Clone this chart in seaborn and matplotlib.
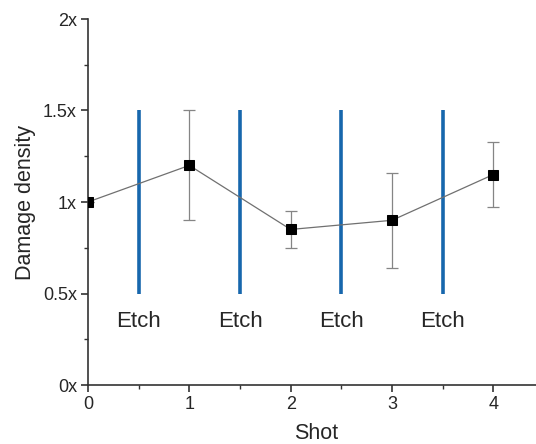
import matplotlib
matplotlib.use("Agg")
import matplotlib.pyplot as plt
import seaborn as sns
import pandas as pd
from matplotlib.ticker import MultipleLocator

shots = [0, 1, 2, 3, 4]
density = [1.0, 1.20, 0.85, 0.90, 1.15]
err_low = [0.0, 0.30, 0.10, 0.26, 0.18]
err_high = [0.0, 0.30, 0.10, 0.26, 0.18]
etch_x = [0.5, 1.5, 2.5, 3.5]
etch_label = "Etch"
ytick_vals = [0, 0.5, 1.0, 1.5, 2.0]
ytick_labels = ["0x", "0.5x", "1x", "1.5x", "2x"]

sns.set_style("ticks")
plt.rcParams['font.family'] = ['Liberation Sans', 'DejaVu Sans']

fig = plt.figure(figsize=(5.36, 4.44), dpi=100)
ax = fig.add_axes([88/536, 59/444, 456/536, 366/444])

df = pd.DataFrame({"Shot": shots, "Damage density": density})

# blue etch lines
for xe in etch_x:
    ax.plot([xe, xe], [0.5, 1.5], color="#1767ad", lw=2.6, zorder=2, solid_capstyle="butt")
    ax.text(xe, 0.345, etch_label, ha="center", va="center", fontsize=16)

ax.errorbar(shots, density, yerr=[err_low, err_high], fmt="none", ecolor="#858585",
            elinewidth=0.9, capsize=4, capthick=0.9, zorder=3)
sns.lineplot(data=df, x="Shot", y="Damage density", ax=ax, color="#707070", lw=0.9,
             marker="s", markersize=7, markerfacecolor="black", markeredgecolor="black",
             zorder=4)

ax.set_xlim(0, 4.5)
ax.set_ylim(0, 2)
ax.set_yticks(ytick_vals)
ax.set_yticklabels(ytick_labels)
ax.set_xticks(shots)
ax.xaxis.set_minor_locator(MultipleLocator(0.5))
ax.yaxis.set_minor_locator(MultipleLocator(0.25))
ax.tick_params(which="major", length=5, width=1.2, labelsize=13, color="#333333", pad=3)
ax.tick_params(which="minor", length=3, width=1.0, color="#333333")
for s in ["top", "right"]:
    ax.spines[s].set_visible(False)
for s in ["left", "bottom"]:
    ax.spines[s].set_linewidth(1.2)
    ax.spines[s].set_color("#333333")
ax.set_xlabel("Shot", fontsize=15.5, labelpad=7)
ax.set_ylabel("Damage density", fontsize=15.5, labelpad=5)

fig.savefig("out.png", dpi=100)
